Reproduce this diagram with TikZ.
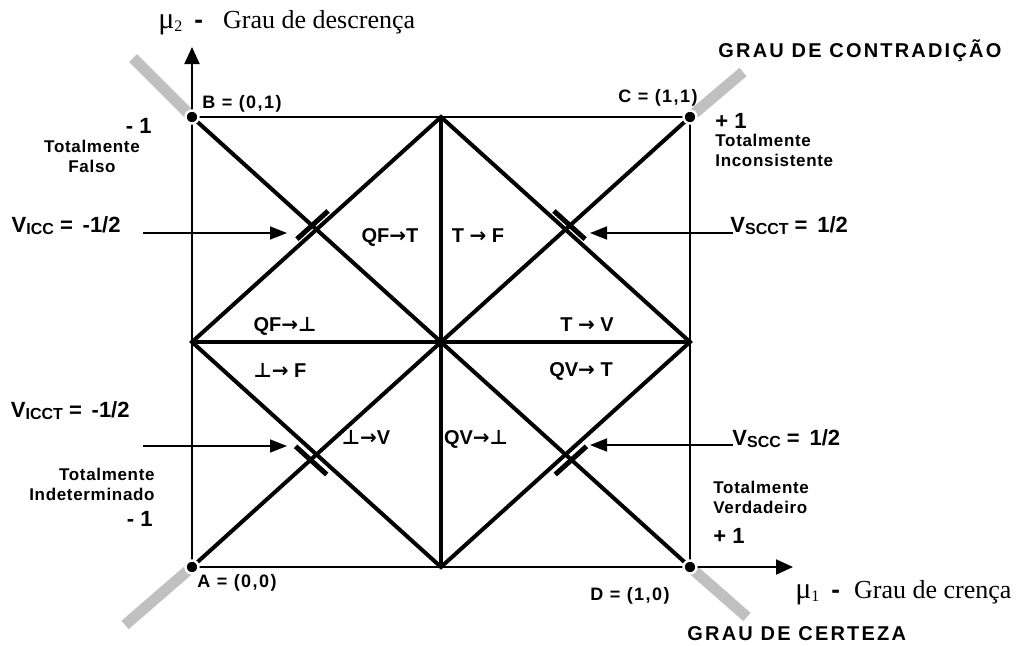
\documentclass[tikz,border=0pt]{standalone}
\usepackage{fontspec}
\setmainfont{Liberation Serif}
\setsansfont{Liberation Sans}
\newfontfamily\labelfont[LetterSpace=8]{Liberation Sans}
\newfontfamily\notefont[LetterSpace=4]{Liberation Sans}
\newfontfamily\capsfont[LetterSpace=11]{Liberation Sans}
\newfontfamily\symbfont{DejaVu Sans}
\definecolor{bargray}{RGB}{192,192,192}
\usetikzlibrary{arrows.meta,positioning}
\newcommand{\imp}{{\symbfont\bfseries →}}
\newcommand{\falsum}{{\symbfont ⊥}}
\newcommand{\vsub}[1]{\raisebox{-1pt}{\fontsize{8}{9}\selectfont #1}}
\newcommand{\muaxis}[1]{{\fontsize{15}{15}\selectfont μ}\raisebox{-1.7pt}{\fontsize{8}{9}\selectfont #1}}

\begin{document}
\begin{tikzpicture}[x=0.5pt,y=-0.5pt,
    frame/.style={line width=1pt},
    heavy/.style={line width=2pt},
    bar/.style={line width=5.5pt,bargray},
    dot/.style={circle,fill=black,draw=white,line width=1.2pt,inner sep=0pt,minimum size=6.5pt},
    tick/.style={line width=2.5pt},
    pointer/.style={-{Triangle[length=8.5pt,width=6.5pt]},line width=0.8pt},
    axis/.style={-{Triangle[length=8.5pt,width=7.5pt]},line width=1pt},
    lbl/.style={inner sep=0pt,font=\labelfont\bfseries\fontsize{9}{11}\selectfont},
    note/.style={inner sep=0pt,font=\notefont\bfseries\fontsize{8.5}{10}\selectfont},
    big/.style={inner sep=0pt,font=\sffamily\bfseries\fontsize{11}{13}\selectfont},
    region/.style={inner sep=0pt,anchor=base,font=\sffamily\bfseries\fontsize{10}{12}\selectfont},
    vlabel/.style={inner sep=0pt,font=\sffamily\bfseries\fontsize{11}{13}\selectfont},
    degree/.style={inner sep=0pt,font=\capsfont\bfseries\fontsize{10}{12}\selectfont},
    axislabel/.style={inner sep=0pt,font=\fontsize{13}{15}\selectfont}]
  \useasboundingbox (0,0) rectangle (1023,645);
  % corners, midpoints, centre
  \coordinate (A) at (192,567);
  \coordinate (B) at (192,117);
  \coordinate (C) at (690,117);
  \coordinate (D) at (690,567);
  \coordinate (mt) at (441,117);
  \coordinate (ml) at (192,342);
  \coordinate (mr) at (690,342);
  \coordinate (mb) at (441,567);
  % gray extensions of the diagonals
  \coordinate (Aend) at (125,625);
  \coordinate (Bend) at (133,58);
  \coordinate (Cend) at (743,72);
  \coordinate (Dend) at (747,617);
  \draw[bar] (A) -- (Aend);
  \draw[bar] (B) -- (Bend);
  \draw[bar] (C) -- (Cend);
  \draw[bar] (D) -- (Dend);
  % axes and frame
  \coordinate (mu2) at (192,47);
  \coordinate (mu1) at (793,567);
  \draw[axis] (A) -- (mu2);
  \draw[axis] (A) -- (mu1);
  \draw[frame] (B) -- (C) -- (D);
  % lattice lines
  \draw[heavy] (A) -- (C);
  \draw[heavy] (B) -- (D);
  \draw[heavy] (mt) -- (mb);
  \draw[heavy] (ml) -- (mr);
  \draw[heavy,line join=miter] (mt) -- (ml) -- (mb) -- (mr) -- cycle;
  % control limits
  \coordinate (xul) at (intersection of B--D and mt--ml);
  \coordinate (xur) at (intersection of A--C and mt--mr);
  \coordinate (xll) at (intersection of A--C and ml--mb);
  \coordinate (xlr) at (intersection of B--D and mr--mb);
  \draw[tick] ([shift={(-19.6,9.65)}]xul) -- ([shift={(11.6,-18.55)}]xul);
  \draw[tick] ([shift={(-11.6,-18.55)}]xur) -- ([shift={(19.6,9.65)}]xur);
  \draw[tick] ([shift={(-20.96,-8.16)}]xll) -- ([shift={(10.24,20.04)}]xll);
  \draw[tick] ([shift={(-10.24,20.04)}]xlr) -- ([shift={(20.96,-8.16)}]xlr);
  % corner dots
  \foreach \c in {A,B,C,D}
    \node[dot] (dot\c) at (\c) {};

  % axis titles
  \node[axislabel,anchor=base west] (mu2lab) at (158,28)
    {\muaxis{2}\hspace{6pt}{\sffamily\bfseries -}\hspace{10pt}Grau de descrença};
  \node[axislabel,anchor=base west] (mu1lab) at (795,598)
    {\muaxis{1}\hspace{6pt}{\sffamily\bfseries -}\hspace{7pt}Grau de crença};
  \node[degree,anchor=base west] (contr) at (718,57) {GRAU DE CONTRADIÇÃO};
  \node[degree,anchor=base west] (cert) at (687,640) {GRAU DE CERTEZA};

  % corner labels
  \node[lbl,anchor=base west] (Blab) at (202,108) {B = (0,1)};
  \node[lbl,anchor=base west] (Clab) at (618,102) {C = (1,1)};
  \node[lbl,anchor=base west] (Alab) at (197,587) {A = (0,0)};
  \node[lbl,anchor=base west] (Dlab) at (590,600) {D = (1,0)};
  \node[big,anchor=base east] (minusB) at (152,133) {- 1};
  \node[note,align=center,anchor=north] (falso) at (92,140) {Totalmente\\Falso};
  \node[big,anchor=base west] (plusC) at (715,128) {+ 1};
  \node[note,align=left,anchor=north west] (incons) at (715,134) {Totalmente\\Inconsistente};
  \node[note,align=right,anchor=north east] (indet) at (155,468) {Totalmente\\Indeterminado};
  \node[big,anchor=base east] (minusA) at (153,526) {- 1};
  \node[note,align=left,anchor=north west] (verd) at (713,481) {Totalmente\\Verdadeiro};
  \node[big,anchor=base west] (plusD) at (713,543) {+ 1};

  % limit values
  \node[vlabel,anchor=base east] (vicc) at (121,232) {V\vsub{ICC} = \,-1/2};
  \node[vlabel,anchor=base west] (vscct) at (730,232) {V\vsub{SCCT} = \,1/2};
  \node[vlabel,anchor=base east] (vicct) at (130,417) {V\vsub{ICCT} = \,-1/2};
  \node[vlabel,anchor=base west] (vscc) at (732,445) {V\vsub{SCC} = \,1/2};
  \coordinate (vicc0) at (143,233);
  \coordinate (vicc1) at (287,233);
  \coordinate (vscct0) at (733,233);
  \coordinate (vscct1) at (590,233);
  \coordinate (vicct0) at (143,446);
  \coordinate (vicct1) at (287,446);
  \coordinate (vscc0) at (733,445);
  \coordinate (vscc1) at (590,445);
  \draw[pointer] (vicc0) -- (vicc1);
  \draw[pointer] (vscct0) -- (vscct1);
  \draw[pointer] (vicct0) -- (vicct1);
  \draw[pointer] (vscc0) -- (vscc1);

  % regions
  \node[region] (qft) at (390,242) {QF\imp T};
  \node[region] (tf) at (478,242) {T \imp\ F};
  \node[region] (qfi) at (285,331) {QF\imp\falsum};
  \node[region] (tv) at (587,331) {T \imp\ V};
  \node[region] (if) at (280,377) {\falsum\imp\ F};
  \node[region] (qvt) at (581,376) {QV\imp\ T};
  \node[region] (iv) at (366,444) {\falsum\imp V};
  \node[region] (qvi) at (476,444) {QV\imp\falsum};
\end{tikzpicture}
\end{document}
